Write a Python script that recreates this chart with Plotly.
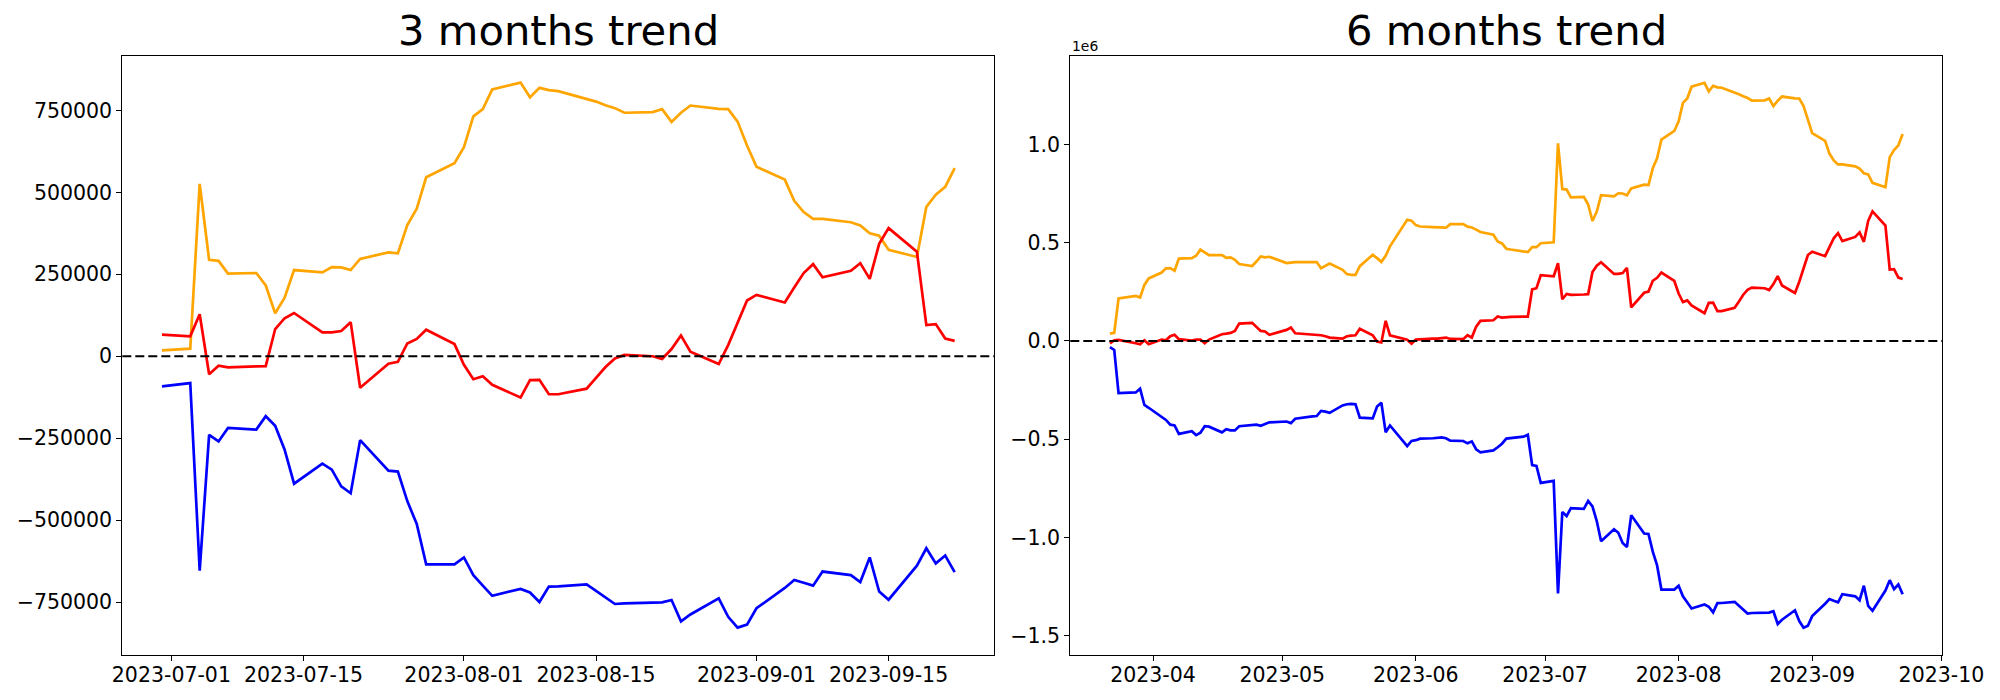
import pandas as pd
import plotly.graph_objects as go

# ---------------- data (values in thousands) ----------------
# 3-month window: trading days 2023-06-30 .. 2023-09-22
dates_3m = [d.strftime("%Y-%m-%d") for d in pd.bdate_range("2023-06-30", "2023-09-22")]

orange_3m = [18, 23, 526, 294, 291, 252, 254, 216, 131, 179, 263, 256, 272, 271, 263, 297,
             317, 314, 400, 450, 546, 589, 638, 732, 754, 814, 835, 790, 819, 812, 809, 786,
             777, 766, 757, 743, 745, 754, 715, 743, 765, 755, 754, 716, 643, 578, 539, 474,
             440, 419, 419, 409, 399, 375, 368, 325, 303, 456, 493, 517, 574]
red_3m = [66, 61, 128, -55, -29, -34, -31, -30, 83, 116, 132, 73, 73, 77, 104, -96,
          -23, -17, 39, 53, 81, 37, -26, -70, -61, -87, -126, -73, -72, -116, -116, -99,
          -66, -33, -7, 4, 0, -8, 22, 63, 14, -24, 34, 102, 170, 187, 164, 210,
          254, 281, 241, 261, 284, 236, 343, 391, 319, 95, 98, 54, 47]
blue_3m = [-92, -82, -654, -240, -260, -219, -224, -183, -212, -285, -389, -328, -346, -397, -418, -256,
           -349, -352, -442, -512, -635, -635, -614, -668, -700, -731, -710, -721, -750, -703, -702, -696,
           -716, -737, -756, -754, -753, -751, -744, -809, -788, -739, -795, -828, -819, -769, -707, -683,
           -691, -700, -657, -668, -689, -614, -718, -743, -639, -586, -632, -608, -659]

# 6-month window: trading days 2023-03-22 .. 2023-09-22
dates_6m = [d.strftime("%Y-%m-%d") for d in pd.bdate_range("2023-03-22", "2023-09-22")
            if d.strftime("%Y-%m-%d") not in ("2023-05-01", "2023-05-29")]

orange_6m = [37, 41, 216, 224, 229, 221, 285, 318,
             348, 369, 370, 357, 419, 421, 433, 464, 450, 436, 436, 423, 425, 413, 391, 381, 404, 430, 425, 428,
             396, 399, 401, 401, 401, 401, 370, 382, 394, 362, 340, 336, 336, 380, 438, 421, 402, 433, 481, 616, 611,
             589, 582, 579, 577, 577, 576, 594, 594, 581, 577, 566, 554, 540, 506, 496, 469, 465, 455, 452, 477, 477,
             497, 502, 1005, 773, 770, 730, 733, 694, 610, 658, 741, 735, 751, 750, 741, 776,
             795, 793, 878, 929, 1024, 1068, 1117, 1211, 1233, 1293, 1313, 1269, 1298, 1290, 1288, 1265,
             1255, 1245, 1236, 1222, 1224, 1233, 1194, 1222, 1243, 1234, 1233, 1195, 1122, 1057, 1018, 953,
             918, 898, 898, 888, 877, 853, 847, 804, 782, 935, 971, 995, 1053]
red_6m = [-12, 3, 5, -5, -12, -17, 3, -17,
          7, 3, 24, 31, 9, 2, 7, 7, -12, 7, 34, 37, 41, 51, 88, 92, 71, 51, 48, 31,
          56, 68, 39, 37, 34, 31, 29, 24, 17, 12, 24, 27, 29, 62, 29, -3, -8, 102, 28, 6, -14,
          7, 9, 12, 12, 14, 17, 10, 9, 29, 17, 73, 102, 105, 124, 119, 122, 122, 124, 124, 262, 268,
          334, 329, 395, 212, 239, 234, 236, 238, 351, 383, 400, 341, 341, 345, 371, 171,
          245, 251, 306, 321, 348, 305, 241, 198, 206, 181, 141, 194, 195, 152, 152, 169,
          201, 235, 260, 271, 268, 259, 289, 330, 282, 244, 301, 370, 437, 454, 431, 477,
          522, 548, 508, 529, 552, 504, 611, 659, 587, 363, 365, 322, 315]
blue_6m = [-32, -46, -266, -264, -262, -243, -326, -340,
           -386, -402, -426, -430, -473, -459, -479, -467, -434, -436, -465, -449, -455, -455, -434, -428, -426, -432, -422, -414,
           -410, -418, -396, -392, -384, -382, -356, -360, -366, -328, -322, -320, -322, -390, -394, -334, -314, -465, -430, -535, -509,
           -505, -497, -495, -493, -491, -495, -507, -509, -521, -511, -551, -567, -557, -541, -523, -497, -495, -487, -477, -632, -636,
           -722, -712, -1284, -870, -891, -850, -854, -814, -842, -916, -1019, -958, -976, -1028, -1048, -887,
           -980, -982, -1072, -1142, -1265, -1265, -1245, -1299, -1330, -1361, -1341, -1352, -1381, -1334, -1333, -1327,
           -1347, -1367, -1387, -1384, -1383, -1382, -1375, -1440, -1418, -1370, -1425, -1459, -1449, -1400, -1337, -1313,
           -1322, -1330, -1288, -1299, -1319, -1245, -1348, -1373, -1270, -1217, -1263, -1239, -1289]

x_ticks_3m = ["2023-07-01", "2023-07-15", "2023-08-01", "2023-08-15", "2023-09-01", "2023-09-15"]
x_ticks_6m = ["2023-04-01", "2023-05-01", "2023-06-01", "2023-07-01", "2023-08-01", "2023-09-01", "2023-10-01"]
x_ticktext_6m = ["2023-04", "2023-05", "2023-06", "2023-07", "2023-08", "2023-09", "2023-10"]
y_ticks_3m = [-750000, -500000, -250000, 0, 250000, 500000, 750000]
y_ticktext_3m = ["\u2212750000", "\u2212500000", "\u2212250000", "0", "250000", "500000", "750000"]
y_ticks_6m = [-1.5e6, -1.0e6, -0.5e6, 0, 0.5e6, 1.0e6]
y_ticktext_6m = ["\u22121.5", "\u22121.0", "\u22120.5", "0.0", "0.5", "1.0"]

titles = ["3 months trend", "6 months trend"]
colors = {"orange": "#FFA500", "red": "#FF0000", "blue": "#0000FF"}

# ---------------- figure ----------------
FONT = "DejaVu Sans"
W, H = 2000, 700
L_DOM = [122.3 / W, 994.3 / W]
R_DOM = [1070.3 / W, 1942.3 / W]
Y_DOM = [(H - 655) / H, (H - 55.5) / H]

fig = go.Figure()


def k(vals):
    return [v * 1000 for v in vals]


for vals, col in [(orange_3m, "orange"), (red_3m, "red"), (blue_3m, "blue")]:
    fig.add_trace(go.Scatter(x=dates_3m, y=k(vals), mode="lines",
                             line=dict(color=colors[col], width=2.7),
                             xaxis="x", yaxis="y", showlegend=False, hoverinfo="skip"))
for vals, col in [(orange_6m, "orange"), (red_6m, "red"), (blue_6m, "blue")]:
    fig.add_trace(go.Scatter(x=dates_6m, y=k(vals), mode="lines",
                             line=dict(color=colors[col], width=2.7),
                             xaxis="x2", yaxis="y2", showlegend=False, hoverinfo="skip"))

axis_common = dict(showline=True, linecolor="black", linewidth=1.1, mirror=True,
                   ticks="outside", ticklen=5, tickwidth=1.1, tickcolor="black",
                   showgrid=False, zeroline=False, automargin=False,
                   tickfont=dict(family=FONT, size=20.5, color="black"))

fig.update_layout(
    template="none",
    width=W, height=H, autosize=False,
    margin=dict(l=0, r=0, t=0, b=0, pad=0),
    paper_bgcolor="white", plot_bgcolor="white", showlegend=False,
    xaxis=dict(domain=L_DOM, anchor="y", type="date",
               range=["2023-06-25 19:12", "2023-09-26 04:48"], ticklabelstandoff=-4,
               tickmode="array", tickvals=x_ticks_3m, ticktext=x_ticks_3m, **axis_common),
    yaxis=dict(domain=Y_DOM, anchor="x", range=[-911640, 917661],
               tickmode="array", tickvals=y_ticks_3m, ticktext=y_ticktext_3m, **axis_common),
    xaxis2=dict(domain=R_DOM, anchor="y2", type="date",
                range=["2023-03-12 19:12", "2023-10-01 04:48"], ticklabelstandoff=-4,
                tickmode="array", tickvals=x_ticks_6m, ticktext=x_ticktext_6m, **axis_common),
    yaxis2=dict(domain=Y_DOM, anchor="x2", range=[-1597600, 1451821],
                tickmode="array", tickvals=y_ticks_6m, ticktext=y_ticktext_6m, **axis_common),
)

for yref, xref in [("y", "x domain"), ("y2", "x2 domain")]:
    fig.add_shape(type="line", xref=xref, yref=yref, x0=0, x1=1, y0=0, y1=0,
                  line=dict(color="black", width=2, dash="9px,4px"), layer="above")

for title, dom in zip(titles, [L_DOM, R_DOM]):
    fig.add_annotation(text=title, xref="paper", yref="paper",
                       x=(dom[0] + dom[1]) / 2, y=Y_DOM[1], xanchor="center", yanchor="bottom",
                       yshift=-2, showarrow=False,
                       font=dict(family=FONT, size=41.7, color="black"))

fig.add_annotation(text="1e6", xref="paper", yref="paper", x=R_DOM[0], y=Y_DOM[1],
                   xanchor="left", yanchor="bottom", yshift=0, showarrow=False,
                   font=dict(family=FONT, size=13.9, color="black"))

fig.write_html("out.html", config={"displayModeBar": False},
               post_script="document.body.style.margin='0';")
